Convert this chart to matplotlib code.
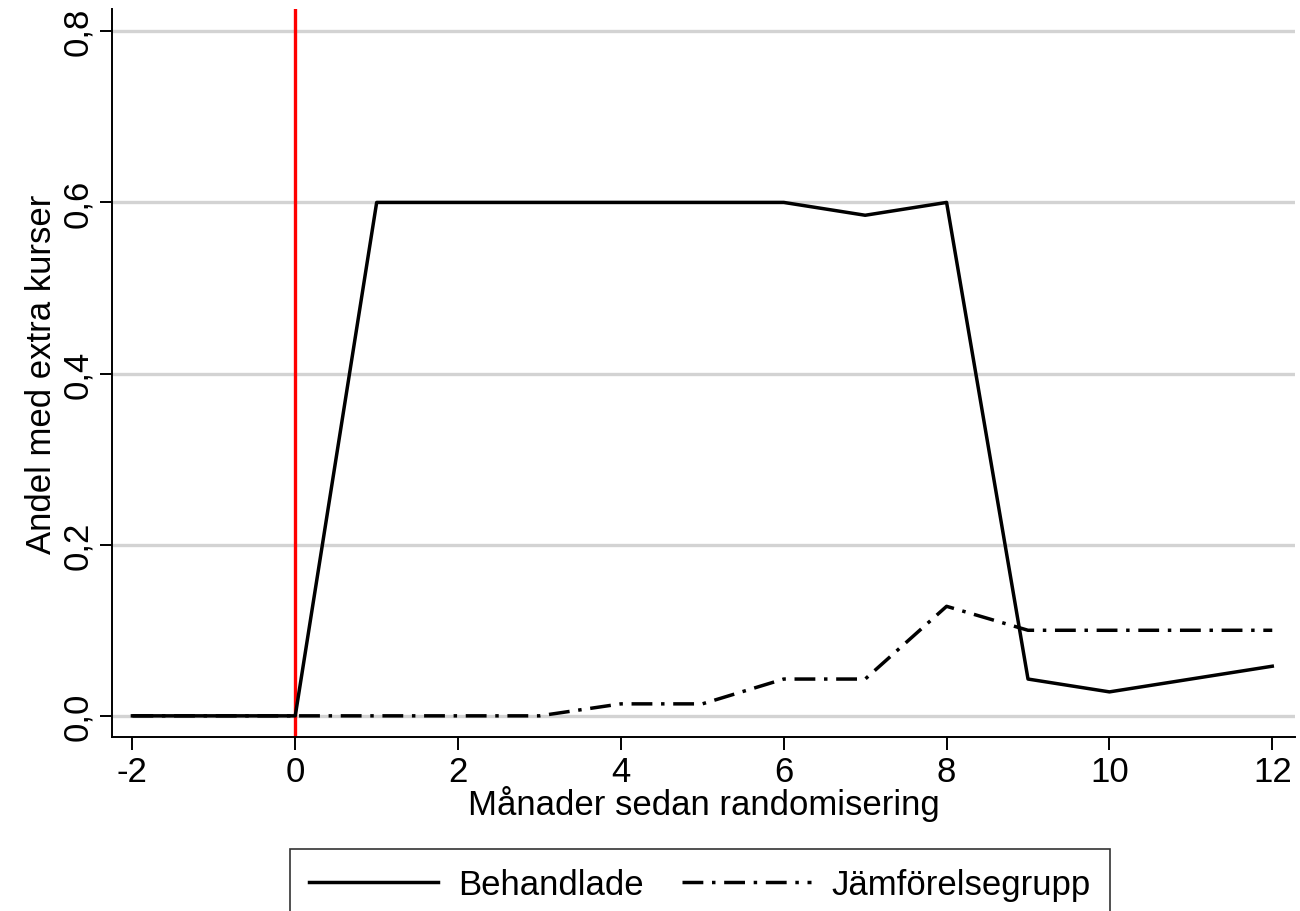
import matplotlib
matplotlib.use("Agg")
import matplotlib.pyplot as plt

plt.rcParams['font.family'] = ['Liberation Sans', 'DejaVu Sans']

manad = [-2, -1, 0, 1, 2, 3, 4, 5, 6, 7, 8, 9, 10, 11, 12]
behandlade = [0, 0, 0, 0.6, 0.6, 0.6, 0.6, 0.6, 0.6, 0.585, 0.6, 0.043, 0.028, 0.043, 0.058]
jamforelse = [0, 0, 0, 0, 0, 0, 0.014, 0.014, 0.043, 0.043, 0.128, 0.1, 0.1, 0.1, 0.1]
xticks = [-2, 0, 2, 4, 6, 8, 10, 12]
yticks = [0.0, 0.2, 0.4, 0.6, 0.8]
ytick_labels = ["0,0", "0,2", "0,4", "0,6", "0,8"]

fig = plt.figure(figsize=(13, 9.12), dpi=100)
ax = fig.add_axes([0.0862, 0.191, 0.91, 0.798])

for y in yticks:
    ax.axhline(y, color="#d3d3d3", lw=2.4, zorder=0)
ax.axvline(0, color="#ff0000", lw=2.4, zorder=1)

ax.plot(manad, behandlade, color="black", lw=2.5, label="Behandlade", zorder=3)
ax.plot(manad, jamforelse, color="black", lw=2.5, dashes=(6, 2.5, 1, 2.5),
        label="Jämförelsegrupp", zorder=3)

ax.set_xlim(-2.25, 12.28)
ax.set_ylim(-0.0245, 0.826)
ax.set_xticks(xticks)
ax.set_xticklabels([str(x) for x in xticks])
ax.set_yticks(yticks)
ax.set_yticklabels(ytick_labels, rotation=90, va="center")
ax.tick_params(axis="both", labelsize=25, length=9, width=1.4, direction="out", pad=4)
for s in ["top", "right"]:
    ax.spines[s].set_visible(False)
for s in ["left", "bottom"]:
    ax.spines[s].set_linewidth(1.4)

ax.set_xlabel("Månader sedan randomisering", fontsize=25, labelpad=-2)
ax.set_ylabel("Andel med extra kurser", fontsize=25, labelpad=2)

leg = fig.legend(loc="upper center", bbox_to_anchor=(0.5385, 0.068), ncol=2, fontsize=25,
                 frameon=True, fancybox=False, edgecolor="black", handlelength=3.7,
                 columnspacing=1.1, borderpad=0.55, handletextpad=0.6, borderaxespad=0)
leg.get_frame().set_linewidth(1.2)

fig.savefig("out.png", dpi=100)
